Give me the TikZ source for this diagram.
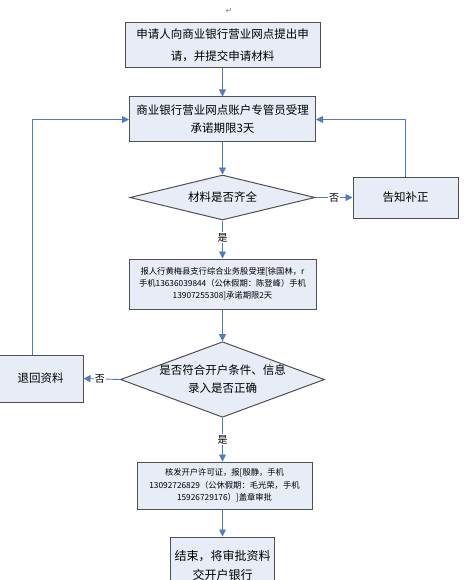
\documentclass[tikz,border=0pt]{standalone}
\usepackage{fontspec}
\setmainfont{Noto Sans CJK SC}
\newfontfamily\djv{DejaVu Sans}
\usetikzlibrary{shapes.geometric,arrows.meta}
\definecolor{boxfill}{HTML}{E7ECF6}
\definecolor{boxborder}{HTML}{505050}
\definecolor{arrowblue}{HTML}{4F7EC0}
\tikzset{
  box/.style={draw=boxborder, line width=1pt, fill=boxfill, align=center, inner sep=0pt},
  dia/.style={diamond, draw=boxborder, line width=1pt, fill=boxfill, align=center, inner sep=0pt},
  arr/.style={draw=arrowblue, line width=0.9pt, -{Triangle[length=7pt,width=7pt]}},
  lbl/.style={fill=white, inner sep=1pt, font=\fontsize{10}{12}\selectfont},
}
\begin{document}
\begin{tikzpicture}[x=1pt,y=-1pt]
\useasboundingbox (0,0) rectangle (467,580);
\clip (0,0) rectangle (467,580);
\node[text=gray, font=\djv\fontsize{8}{9}\selectfont] (pm) at (229,11) {↵};
\node[box, minimum width=195pt, minimum height=45pt, font=\fontsize{11.5}{22}\selectfont] (b1) at (222.5,45.5) {申请人向商业银行营业网点提出申\\请，并提交申请材料};
\node[box, minimum width=186pt, minimum height=45pt, font=\fontsize{11.5}{18}\selectfont] (b2) at (222.5,119.5) {商业银行营业网点账户专管员受理\\承诺期限3天};
\node[dia, minimum width=185pt, minimum height=45pt, aspect=4.1, font=\fontsize{11.5}{14}\selectfont] (d1) at (222.5,197.5) {材料是否齐全};
\node[box, minimum width=105pt, minimum height=41pt, font=\fontsize{11.5}{14}\selectfont] (gz) at (405.5,197.5) {告知补正};
\node[box, minimum width=187pt, minimum height=50pt, font=\fontsize{8.3}{12}\selectfont] (b3) at (222.5,284) {报人行黄梅县支行综合业务股受理[徐国林，r\\手机13636039844（公休假期：陈登峰）手机\\13907255308]承诺期限2天};
\node[dia, minimum width=197pt, minimum height=73pt, aspect=2.7, font=\fontsize{11.5}{18}\selectfont] (d2) at (222.5,379.5) {是否符合开户条件、信息\\录入是否正确};
\node[box, minimum width=85pt, minimum height=47pt, font=\fontsize{11.5}{14}\selectfont] (th) at (40.5,378.5) {退回资料};
\node[box, minimum width=175pt, minimum height=47pt, font=\fontsize{8.3}{12.5}\selectfont] (b4) at (224.5,485.5) {核发开户许可证，报[殷静，手机\\13092726829（公休假期：毛光荣，手机\\15926729176）]盖章审批};
\node[box, minimum width=104pt, minimum height=84pt, anchor=north, font=\fontsize{12}{19}\selectfont, text depth=28pt] (b5) at (222.5,536.5) {结束，将审批资料\\交开户银行};
\draw[arr] (b1.south) -- (b2.north);
\draw[arr] (b2.south) -- (d1.north);
\draw[arr] (d1.east) -- node[lbl]{否} (gz.west);
\draw[arr] (gz.north) |- (b2.east);
\draw[arr] (d1.south) -- node[lbl, pos=0.45]{是} (b3.north);
\draw[arr] (b3.south) -- (d2.north);
\draw[arr] (d2.west) -- node[lbl, pos=0.55]{否} (th.east);
\draw[arr] (th.north -| 32,0) |- (b2.west);
\draw[arr] (d2.south) -- node[lbl, pos=0.5]{是} (d2.south |- b4.north);
\draw[arr] (d2.south |- b4.south) -- (b5.north);
\end{tikzpicture}
\end{document}
